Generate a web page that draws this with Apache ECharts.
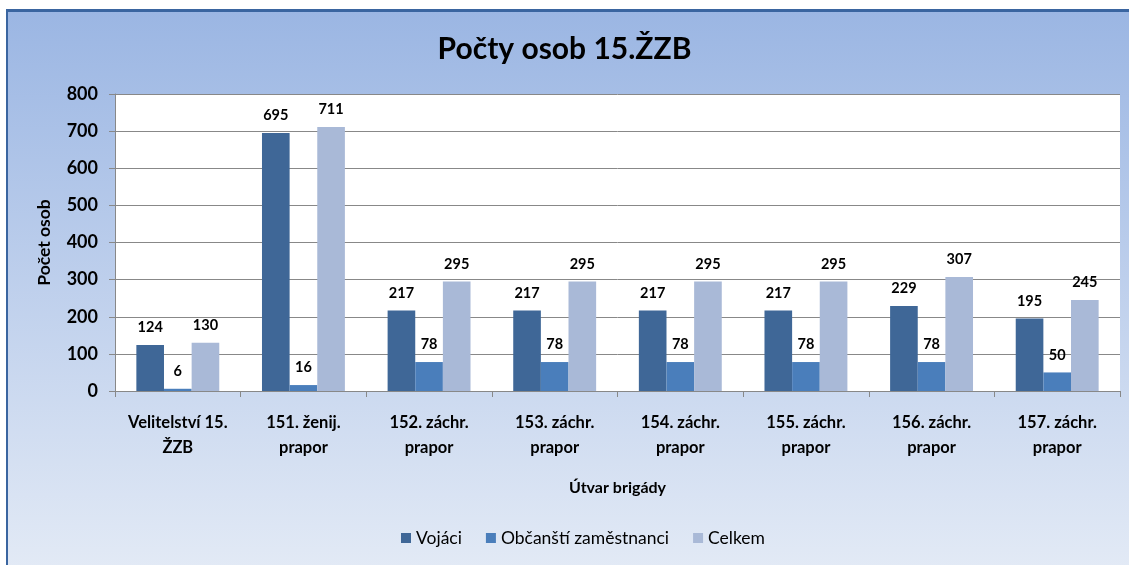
<!DOCTYPE html>
<html>
<head>
<meta charset="utf-8">
<script src="https://cdn.jsdelivr.net/npm/echarts@6/dist/echarts.min.js"></script>
<style>
    html, body { margin: 0; padding: 0; background: #fff; }
    #chart { width: 1129px; height: 565px; }
</style>
</head>
<body>
<div id="chart"></div>
<script>
var units = ['Velitelství 15.\nŽZB', '151. ženij.\nprapor', '152. záchr.\nprapor', '153. záchr.\nprapor',
    '154. záchr.\nprapor', '155. záchr.\nprapor', '156. záchr.\nprapor', '157. záchr.\nprapor'];
var vojaci = [124, 695, 217, 217, 217, 217, 229, 195];
var obcanstiZam = [6, 16, 78, 78, 78, 78, 78, 50];
var celkem = [130, 711, 295, 295, 295, 295, 307, 245];
var seriesNames = ['Vojáci', 'Občanští zaměstnanci', 'Celkem'];
var colors = ['#3f6797', '#4a7ebb', '#a9b9d7'];

var chart = echarts.init(document.getElementById('chart'));
var font = 'Lato, "Open Sans", sans-serif';

var labelOpt = {
    show: true,
    position: 'top',
    distance: 10,
    color: '#000',
    fontFamily: font,
    fontWeight: 'bold',
    fontSize: 14.5
};

function makeSeries(name, data, color) {
    return {
        name: name,
        type: 'bar',
        data: data,
        barGap: '0%',
        barCategoryGap: '34%',
        itemStyle: { color: color },
        label: labelOpt
    };
}

var option = {
    animation: false,
    color: colors,
    textStyle: { fontFamily: font },
    graphic: [{
        type: 'rect',
        z: -10,
        shape: { x: 8, y: 11, width: 1140, height: 570 },
        style: {
            fill: new echarts.graphic.LinearGradient(0, 0, 0, 1, [
                { offset: 0, color: '#9bb6e3' },
                { offset: 1, color: '#e4ebf6' }
            ]),
            stroke: null
        }
    }, {
        type: 'rect',
        z: -9,
        shape: { x: 6, y: 9, width: 1140, height: 3 },
        style: { fill: '#3a65a0' }
    }, {
        type: 'rect',
        z: -9,
        shape: { x: 6, y: 9, width: 2, height: 570 },
        style: { fill: '#3a65a0' }
    }],
    title: {
        text: 'Počty osob 15.ŽZB',
        left: 'center',
        top: 29,
        textStyle: {
            fontFamily: font,
            fontWeight: 'bold',
            fontSize: 30,
            color: '#000'
        }
    },
    legend: {
        data: seriesNames,
        bottom: 13,
        left: 396,
        icon: 'rect',
        itemWidth: 10,
        itemHeight: 10,
        itemGap: 24,
        textStyle: {
            fontFamily: font,
            fontSize: 17.5,
            color: '#000'
        }
    },
    grid: {
        left: 115,
        right: 9,
        top: 94,
        bottom: 174,
        show: true,
        backgroundColor: '#fff',
        borderWidth: 0
    },
    xAxis: {
        type: 'category',
        data: units,
        name: 'Útvar brigády',
        nameLocation: 'middle',
        nameGap: 89,
        nameTextStyle: {
            fontFamily: font,
            fontWeight: 'bold',
            fontSize: 16,
            color: '#000'
        },
        axisLine: { lineStyle: { color: '#888', width: 1 } },
        axisTick: { show: true, length: 6, lineStyle: { color: '#888' } },
        axisLabel: {
            margin: 19,
            interval: 0,
            color: '#000',
            fontFamily: font,
            fontWeight: 'bold',
            fontSize: 16.5,
            lineHeight: 25
        }
    },
    yAxis: {
        type: 'value',
        min: 0,
        max: 800,
        interval: 100,
        name: 'Počet osob',
        nameLocation: 'middle',
        nameGap: 62,
        nameRotate: 90,
        nameTextStyle: {
            fontFamily: font,
            fontWeight: 'bold',
            fontSize: 17.5,
            color: '#000'
        },
        axisLine: { show: true, lineStyle: { color: '#888', width: 1 } },
        axisTick: { show: true, length: 6, lineStyle: { color: '#888' } },
        splitLine: { lineStyle: { color: '#888', width: 1 } },
        axisLabel: {
            margin: 17,
            color: '#000',
            fontFamily: font,
            fontWeight: 'bold',
            fontSize: 18
        }
    },
    series: [
        makeSeries(seriesNames[0], vojaci, colors[0]),
        makeSeries(seriesNames[1], obcanstiZam, colors[1]),
        makeSeries(seriesNames[2], celkem, colors[2])
    ]
};

chart.setOption(option);
</script>
</body>
</html>
